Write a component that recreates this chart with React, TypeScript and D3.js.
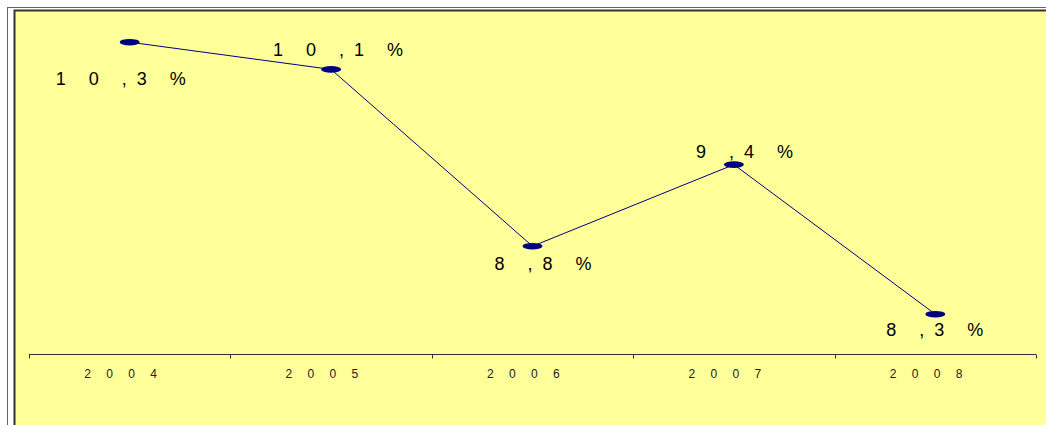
import React from "react";
import * as d3 from "d3";

const years = ["2004", "2005", "2006", "2007", "2008"];
const values = [10.3, 10.1, 8.8, 9.4, 8.3];
// label placement relative to each point (layout config): [dx to first glyph, dy to baseline]
const labelOffsets: [number, number][] = [
  [-74, 43],
  [-58, -13],
  [-38, 24],
  [-38, -7],
  [-49, 22],
];

const W = 1046;
const H = 425;

// spread glyph advances as rendered in the reference
function advance(ch: string): number {
  if (ch === ",") return 15;
  if (ch === " ") return 5;
  return 33;
}

function fmt(v: number): string {
  return String(v).replace(".", ",") + "%";
}

export default function App() {
  const x = d3.scaleBand<string>().domain(years).range([29, 1036]).padding(0);
  const y = d3.scaleLinear().domain([8, 10.5]).range([355, 15]);
  const cx = (yr: string) => (x(yr) as number) + x.bandwidth() / 2;
  const axisY = 354.5;

  const line = d3
    .line<number>()
    .x((_, i) => cx(years[i]))
    .y((v) => y(v));

  const tickXs = [...years.map((yr) => x(yr) as number), 1036];

  return (
    <svg
      width={W}
      height={H}
      style={{ position: "absolute", left: 0, top: 0, background: "#fff" }}
      fontFamily="'Liberation Sans', Arial, sans-serif"
    >
      <rect x={7.5} y={7.5} width={W + 20} height={H + 20} fill="#fff" stroke="#666" strokeWidth={1} />
      <rect x={14.5} y={10.5} width={W + 20} height={H + 20} fill="#FFFF99" stroke="#333" strokeWidth={2} />

      {/* axis */}
      <line x1={29} x2={1036} y1={axisY} y2={axisY} stroke="#333" strokeWidth={1} />
      {tickXs.map((t, i) => (
        <line key={i} x1={Math.round(t) + 0.5} x2={Math.round(t) + 0.5} y1={axisY} y2={axisY + 4} stroke="#333" strokeWidth={1} />
      ))}
      {years.map((yr) => (
        <text key={yr} y={378} fontSize={12} fill="#222">
          {yr.split("").map((ch, j) => (
            <tspan key={j} x={cx(yr) - 45.5 + j * 22}>
              {ch}
            </tspan>
          ))}
        </text>
      ))}

      <path d={line(values) || ""} fill="none" stroke="#000080" strokeWidth={1} />
      {values.map((v, i) => (
        <ellipse key={i} cx={cx(years[i])} cy={y(v)} rx={10} ry={3.3} fill="#000080" />
      ))}

      {values.map((v, i) => {
        const s = fmt(v);
        let pos = cx(years[i]) + labelOffsets[i][0];
        const xs: number[] = [];
        for (const ch of s) {
          xs.push(pos);
          pos += advance(ch);
        }
        return (
          <text key={i} y={y(v) + labelOffsets[i][1]} fontSize={18} fill="#000">
            {s.split("").map((ch, j) => (
              <tspan key={j} x={xs[j]}>
                {ch}
              </tspan>
            ))}
          </text>
        );
      })}
    </svg>
  );
}
